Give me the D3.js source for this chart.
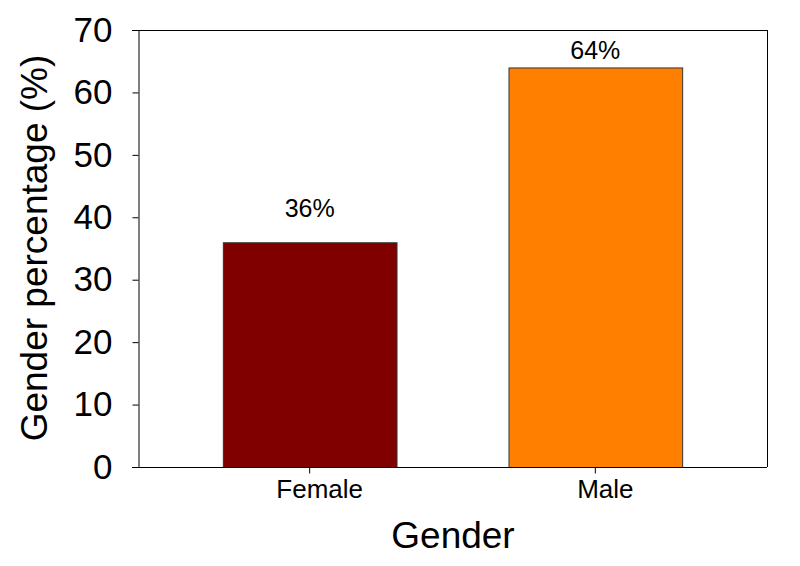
<!DOCTYPE html>
<html>
<head>
<meta charset="utf-8">
<script src="https://cdn.jsdelivr.net/npm/d3@7"></script>
<style>
  body { margin: 0; background: #fff; }
  svg { display: block; font-family: Arial, "Liberation Sans", sans-serif; }
</style>
</head>
<body>
<svg id="chart" width="800" height="566"></svg>
<script>
const categories = ["Female", "Male"];
const values = [36, 64];
const valueLabels = ["36%", "64%"];
const labelAt = [40, 65.4];
const colors = ["#800000", "#ff8000"];
const yTicks = [0, 10, 20, 30, 40, 50, 60, 70];

(function () {
const svg = d3.select("#chart");
const mLeft = 138, mRight = 767, mTop = 30, mBottom = 467;

const x = d3.scaleBand().domain(categories).range([mLeft, mRight])
  .paddingInner(0.392).paddingOuter(0.297);
const y = d3.scaleLinear().domain([0, 70]).range([mBottom, mTop]);

// bars
svg.selectAll("rect.bar").data(categories).join("rect")
  .attr("class", "bar")
  .attr("x", d => x(d) + 0.5)
  .attr("y", (d, i) => y(values[i]) + 0.5)
  .attr("width", x.bandwidth())
  .attr("height", (d, i) => y(0) - y(values[i]))
  .attr("fill", (d, i) => colors[i])
  .attr("stroke", "#333")
  .attr("stroke-width", 1);

// frame top and right
svg.append("line").attr("x1", mLeft - 6).attr("x2", mRight).attr("y1", mTop + 0.5).attr("y2", mTop + 0.5)
  .attr("stroke", "#000");
svg.append("line").attr("x1", mRight + 0.5).attr("x2", mRight + 0.5).attr("y1", mTop).attr("y2", mBottom)
  .attr("stroke", "#000");

// y axis
const yAxis = svg.append("g").attr("transform", `translate(${mLeft + 0.5},0)`)
  .call(d3.axisLeft(y).tickValues(yTicks).tickSize(6).tickSizeOuter(0).tickPadding(20));
yAxis.select(".domain").attr("stroke", "#000");
yAxis.selectAll("text").attr("font-size", 35).attr("fill", "#000")
  .attr("font-family", "Arial, 'Liberation Sans', sans-serif");

// x axis
const xAxis = svg.append("g").attr("transform", `translate(0,${mBottom + 0.5})`)
  .call(d3.axisBottom(x).tickSize(6).tickSizeOuter(0).tickPadding(6));
xAxis.select(".domain").attr("d", `M${mLeft - 6},0H${mRight}`).attr("stroke", "#000");
xAxis.selectAll("text").attr("font-size", 26).attr("fill", "#000").attr("dx", 10)
  .attr("font-family", "Arial, 'Liberation Sans', sans-serif");

// value labels
svg.selectAll("text.vlabel").data(categories).join("text")
  .attr("class", "vlabel")
  .attr("x", d => x(d) + x.bandwidth() / 2)
  .attr("y", (d, i) => y(labelAt[i]))
  .attr("text-anchor", "middle")
  .attr("font-size", 25)
  .attr("fill", "#000")
  .text((d, i) => valueLabels[i]);

// axis titles
svg.append("text")
  .attr("x", 453).attr("y", 548)
  .attr("text-anchor", "middle")
  .attr("font-size", 37)
  .text("Gender");

svg.append("text")
  .attr("transform", "translate(47,248) rotate(-90)")
  .attr("text-anchor", "middle")
  .attr("font-size", 37)
  .text("Gender percentage (%)");
})();
</script>
</body>
</html>
